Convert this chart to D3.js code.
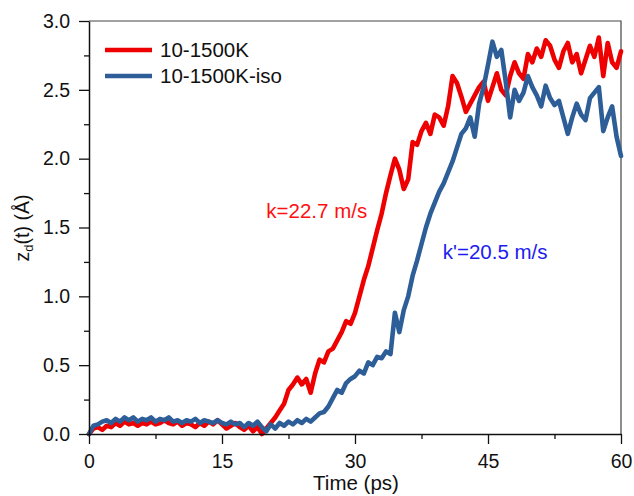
<!DOCTYPE html>
<html>
<head>
<meta charset="utf-8">
<script src="https://cdn.jsdelivr.net/npm/d3@7"></script>
<style>
  html, body { margin: 0; padding: 0; background: #fff; }
  svg { display: block; font-family: "Liberation Sans", Arial, sans-serif; }
</style>
</head>
<body>
<svg id="chart" width="634" height="496"></svg>
<script>
// ---- data ----
const timeStep = 0.5; // ps sampling grid
const seriesNames = ["10-1500K", "10-1500K-iso"];
const seriesColors = ["#ee0000", "#2e5e98"];

const zRed = [
  0.00, 0.04, 0.05, 0.03, 0.06, 0.05, 0.08, 0.06, 0.09, 0.07,
  0.08, 0.06, 0.08, 0.07, 0.09, 0.07, 0.08, 0.10, 0.08, 0.07,
  0.09, 0.06, 0.08, 0.07, 0.05, 0.08, 0.06, 0.09, 0.07, 0.10,
  0.07, 0.04, 0.06, 0.08, 0.05, 0.03, 0.06, 0.02, 0.05, 0.00,
  0.04, 0.08, 0.12, 0.17, 0.22, 0.32, 0.36, 0.41, 0.36, 0.40,
  0.30, 0.44, 0.54, 0.52, 0.60, 0.62, 0.68, 0.74, 0.82, 0.80,
  0.88, 1.00, 1.12, 1.22, 1.35, 1.48, 1.60, 1.75, 1.88, 2.00,
  1.92, 1.78, 1.85, 2.12, 2.10, 2.20, 2.26, 2.18, 2.32, 2.30,
  2.24, 2.38, 2.60, 2.55, 2.45, 2.34, 2.40, 2.46, 2.52, 2.56,
  2.42, 2.52, 2.62, 2.50, 2.46, 2.60, 2.70, 2.62, 2.58, 2.76,
  2.70, 2.80, 2.74, 2.86, 2.82, 2.72, 2.66, 2.78, 2.84, 2.70,
  2.76, 2.62, 2.72, 2.82, 2.74, 2.88, 2.60, 2.84, 2.70, 2.66,
  2.78
];

const zBlue = [
  0.00, 0.06, 0.07, 0.09, 0.10, 0.08, 0.11, 0.09, 0.12, 0.10,
  0.12, 0.09, 0.11, 0.10, 0.12, 0.09, 0.11, 0.10, 0.12, 0.09,
  0.10, 0.08, 0.10, 0.09, 0.11, 0.08, 0.10, 0.09, 0.08, 0.10,
  0.08, 0.07, 0.09, 0.07, 0.08, 0.05, 0.08, 0.06, 0.09, 0.05,
  0.02, 0.07, 0.04, 0.08, 0.06, 0.09, 0.07, 0.10, 0.08, 0.11,
  0.09, 0.12, 0.15, 0.16, 0.20, 0.26, 0.32, 0.30, 0.37, 0.40,
  0.42, 0.46, 0.44, 0.52, 0.50, 0.56, 0.55, 0.60, 0.58, 0.88,
  0.74, 0.90, 1.00, 1.15, 1.26, 1.38, 1.50, 1.60, 1.68, 1.76,
  1.82, 1.90, 1.98, 2.08, 2.18, 2.22, 2.30, 2.16, 2.40, 2.52,
  2.68, 2.85, 2.74, 2.79, 2.56, 2.30, 2.50, 2.42, 2.48, 2.60,
  2.52, 2.46, 2.38, 2.53, 2.44, 2.39, 2.42, 2.30, 2.18, 2.30,
  2.40, 2.32, 2.28, 2.44, 2.48, 2.52, 2.20, 2.30, 2.38, 2.16,
  2.02
];

const xTicks = [0, 15, 30, 45, 60];
const yTicks = [0.0, 0.5, 1.0, 1.5, 2.0, 2.5, 3.0];
const annotations = [
  { text: "k=22.7 m/s", t: 20.0, z: 1.57, color: "#ff1010" },
  { text: "k'=20.5 m/s", t: 39.9, z: 1.27, color: "#1c1cf0" }
];

// ---- layout ----
const svg = d3.select("#chart");
const m = { left: 89, right: 621, top: 21, bottom: 434 };

const x = d3.scaleLinear().domain([0, 60]).range([m.left, m.right]);
const y = d3.scaleLinear().domain([0, 3]).range([m.bottom, m.top]);

// frame (top/right)
svg.append("path")
  .attr("d", `M${m.left},${m.top}H${m.right}V${m.bottom}`)
  .attr("fill", "none").attr("stroke", "#444").attr("stroke-width", 1.2);

// series
const line = d3.line()
  .x((d, i) => x(i * timeStep))
  .y(d => y(d))
  .curve(d3.curveLinear);

[zRed, zBlue].forEach((vals, k) => {
  svg.append("path")
    .datum(vals)
    .attr("d", line)
    .attr("fill", "none")
    .attr("stroke", seriesColors[k])
    .attr("stroke-width", 4.6)
    .attr("stroke-linejoin", "round")
    .attr("stroke-linecap", "round");
});

// axes
const xAxis = d3.axisBottom(x).tickValues(xTicks).tickFormat(d3.format("d"))
  .tickSizeInner(10).tickSizeOuter(0).tickPadding(10);
svg.append("g").attr("transform", `translate(0,${m.bottom})`).call(xAxis);
const xMinor = d3.axisBottom(x).tickValues([7.5, 22.5, 37.5, 52.5]).tickFormat("")
  .tickSizeInner(5).tickSizeOuter(0);
svg.append("g").attr("transform", `translate(0,${m.bottom})`).call(xMinor)
  .select(".domain").remove();

const yAxis = d3.axisLeft(y).tickValues(yTicks).tickFormat(d3.format(".1f"))
  .tickSizeInner(10).tickSizeOuter(0).tickPadding(9);
svg.append("g").attr("transform", `translate(${m.left},0)`).call(yAxis);
const yMinor = d3.axisLeft(y).tickValues([0.25, 0.75, 1.25, 1.75, 2.25, 2.75]).tickFormat("")
  .tickSizeInner(5).tickSizeOuter(0);
svg.append("g").attr("transform", `translate(${m.left},0)`).call(yMinor)
  .select(".domain").remove();

svg.selectAll(".domain").attr("stroke", "#111").attr("stroke-width", 1.5);
svg.selectAll(".tick line").attr("stroke", "#111").attr("stroke-width", 1.3);
svg.selectAll(".tick text")
  .attr("font-family", "Liberation Sans, Arial, sans-serif")
  .attr("font-size", 19.5).attr("fill", "#111");

// axis titles
svg.append("text")
  .attr("x", 356).attr("y", 490)
  .attr("text-anchor", "middle")
  .attr("font-size", 20.5).attr("fill", "#111")
  .text("Time (ps)");

const yl = svg.append("text")
  .attr("transform", `translate(29,228) rotate(-90)`)
  .attr("text-anchor", "middle")
  .attr("font-size", 19.5).attr("fill", "#111");
yl.append("tspan").text("z");
yl.append("tspan").attr("font-size", 13).attr("dy", 4).text("d");
yl.append("tspan").attr("dy", -4).text("(t) (Å)");

// legend
seriesNames.forEach((name, k) => {
  const ly = 50 + k * 26;
  svg.append("line")
    .attr("x1", 105).attr("x2", 152).attr("y1", ly).attr("y2", ly)
    .attr("stroke", seriesColors[k]).attr("stroke-width", 4.5);
  svg.append("text")
    .attr("x", 160).attr("y", ly + 7)
    .attr("font-size", 20.5).attr("fill", "#111")
    .text(name);
});

// annotations
annotations.forEach(a => {
  svg.append("text")
    .attr("x", x(a.t)).attr("y", y(a.z))
    .attr("font-size", 20.5).attr("fill", a.color)
    .text(a.text);
});
</script>
</body>
</html>
